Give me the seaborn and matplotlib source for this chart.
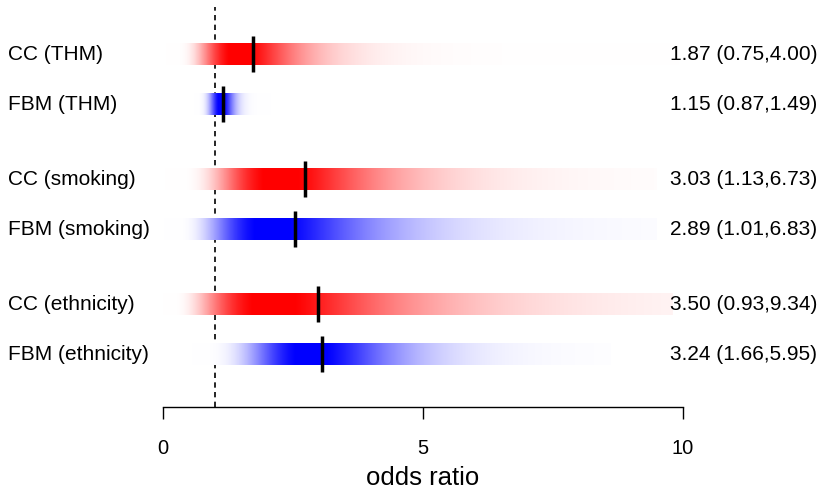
import numpy as np
import pandas as pd
import matplotlib
matplotlib.use("Agg")
import matplotlib.pyplot as plt
import seaborn as sns

# ---- data ----
labels = ["CC (THM)", "FBM (THM)", "CC (smoking)", "FBM (smoking)",
          "CC (ethnicity)", "FBM (ethnicity)"]
method = ["CC", "FBM", "CC", "FBM", "CC", "FBM"]
estimate = [1.87, 1.15, 3.03, 2.89, 3.50, 3.24]
ci_low = [0.75, 0.87, 1.13, 1.01, 0.93, 1.66]
ci_high = [4.00, 1.49, 6.73, 6.83, 9.34, 5.95]
centre = [1.73, 1.15, 2.73, 2.54, 2.98, 3.06]      # black tick position
strip_from = [0.05, 0.60, 0.00, 0.02, 0.00, 0.56]  # extent of density strip
strip_to = [9.90, 2.08, 9.50, 9.50, 9.80, 8.60]
row_pos = [1, 2, 3.5, 4.5, 6, 7]
xticks = [0, 5, 10]
ref_line = 1

colors = {"CC": (1.0, 0.0, 0.0), "FBM": (0.0, 0.0, 1.0)}

df = pd.DataFrame(dict(label=labels, method=method, est=estimate, lo=ci_low,
                       hi=ci_high, centre=centre, s0=strip_from, s1=strip_to,
                       y=row_pos))

sns.set_theme(style="white")
plt.rcParams["font.family"] = ["Liberation Sans", "DejaVu Sans"]
plt.rcParams["text.color"] = "black"

W, H = 825, 489
fig = plt.figure(figsize=(W / 100, H / 100), dpi=100)
ax = fig.add_axes([163 / W, 1 - 408 / H, (683 - 163) / W, 400 / H])
y_top = (8 - 5) / 50
y_bot = (408 - 5) / 50

ax.axvline(ref_line, color="black", lw=1.2, linestyle=(0, (3.2, 2.6)), zorder=1)

strip_h = 0.44
for _, r in df.iterrows():
    mu = (np.log(r.lo) + np.log(r.hi)) / 2
    sd = (np.log(r.hi) - np.log(r.lo)) / 3.92
    xs = np.linspace(max(r.s0, 1e-3), r.s1, 600)
    dens = np.exp(-0.5 * ((np.log(xs) - mu) / sd) ** 2) / xs
    a = np.clip(1.05 * (dens / dens.max()) ** 0.9, 0, 1)
    c = np.array(colors[r.method])
    rgb = 1 - a[:, None] * (1 - c[None, :])
    img = rgb[None, :, :]
    ax.imshow(img, extent=[r.s0, r.s1, r.y + strip_h / 2, r.y - strip_h / 2],
              aspect="auto", interpolation="bilinear", zorder=2)
    ax.text(-(163 - 8) / 52, r.y, r.label, ha="left", va="center",
            fontsize=15, color="black", clip_on=False)
    ax.text((670 - 163) / 52, r.y, f"{r.est:.2f} ({r.lo:.2f},{r.hi:.2f})",
            ha="left", va="center", fontsize=15, color="black",
            clip_on=False, zorder=5)

sns.scatterplot(data=df, x="centre", y="y", marker="|", s=640, color="black",
                linewidth=2.5, ax=ax, zorder=4, legend=False)

ax.set_xlim(0, 10)
ax.set_ylim(y_bot, y_top)
for s in ["top", "left", "right"]:
    ax.spines[s].set_visible(False)
ax.spines["bottom"].set_bounds(0, 10)
ax.spines["bottom"].set_linewidth(1.0)
ax.spines["bottom"].set_color("black")
ax.set_xticks(xticks)
ax.set_xticklabels([str(t) for t in xticks])
ax.tick_params(axis="x", direction="out", length=8.6, width=1.0, pad=14,
               labelsize=14.5, colors="black", labelcolor="black", bottom=True)
ax.set_yticks([])
ax.set_xlabel("")
ax.set_ylabel("")
fig.text(423 / W, 1 - 478 / H, "odds ratio", ha="center", va="center",
         fontsize=18.5, color="black")

fig.savefig("out.png", dpi=100)
